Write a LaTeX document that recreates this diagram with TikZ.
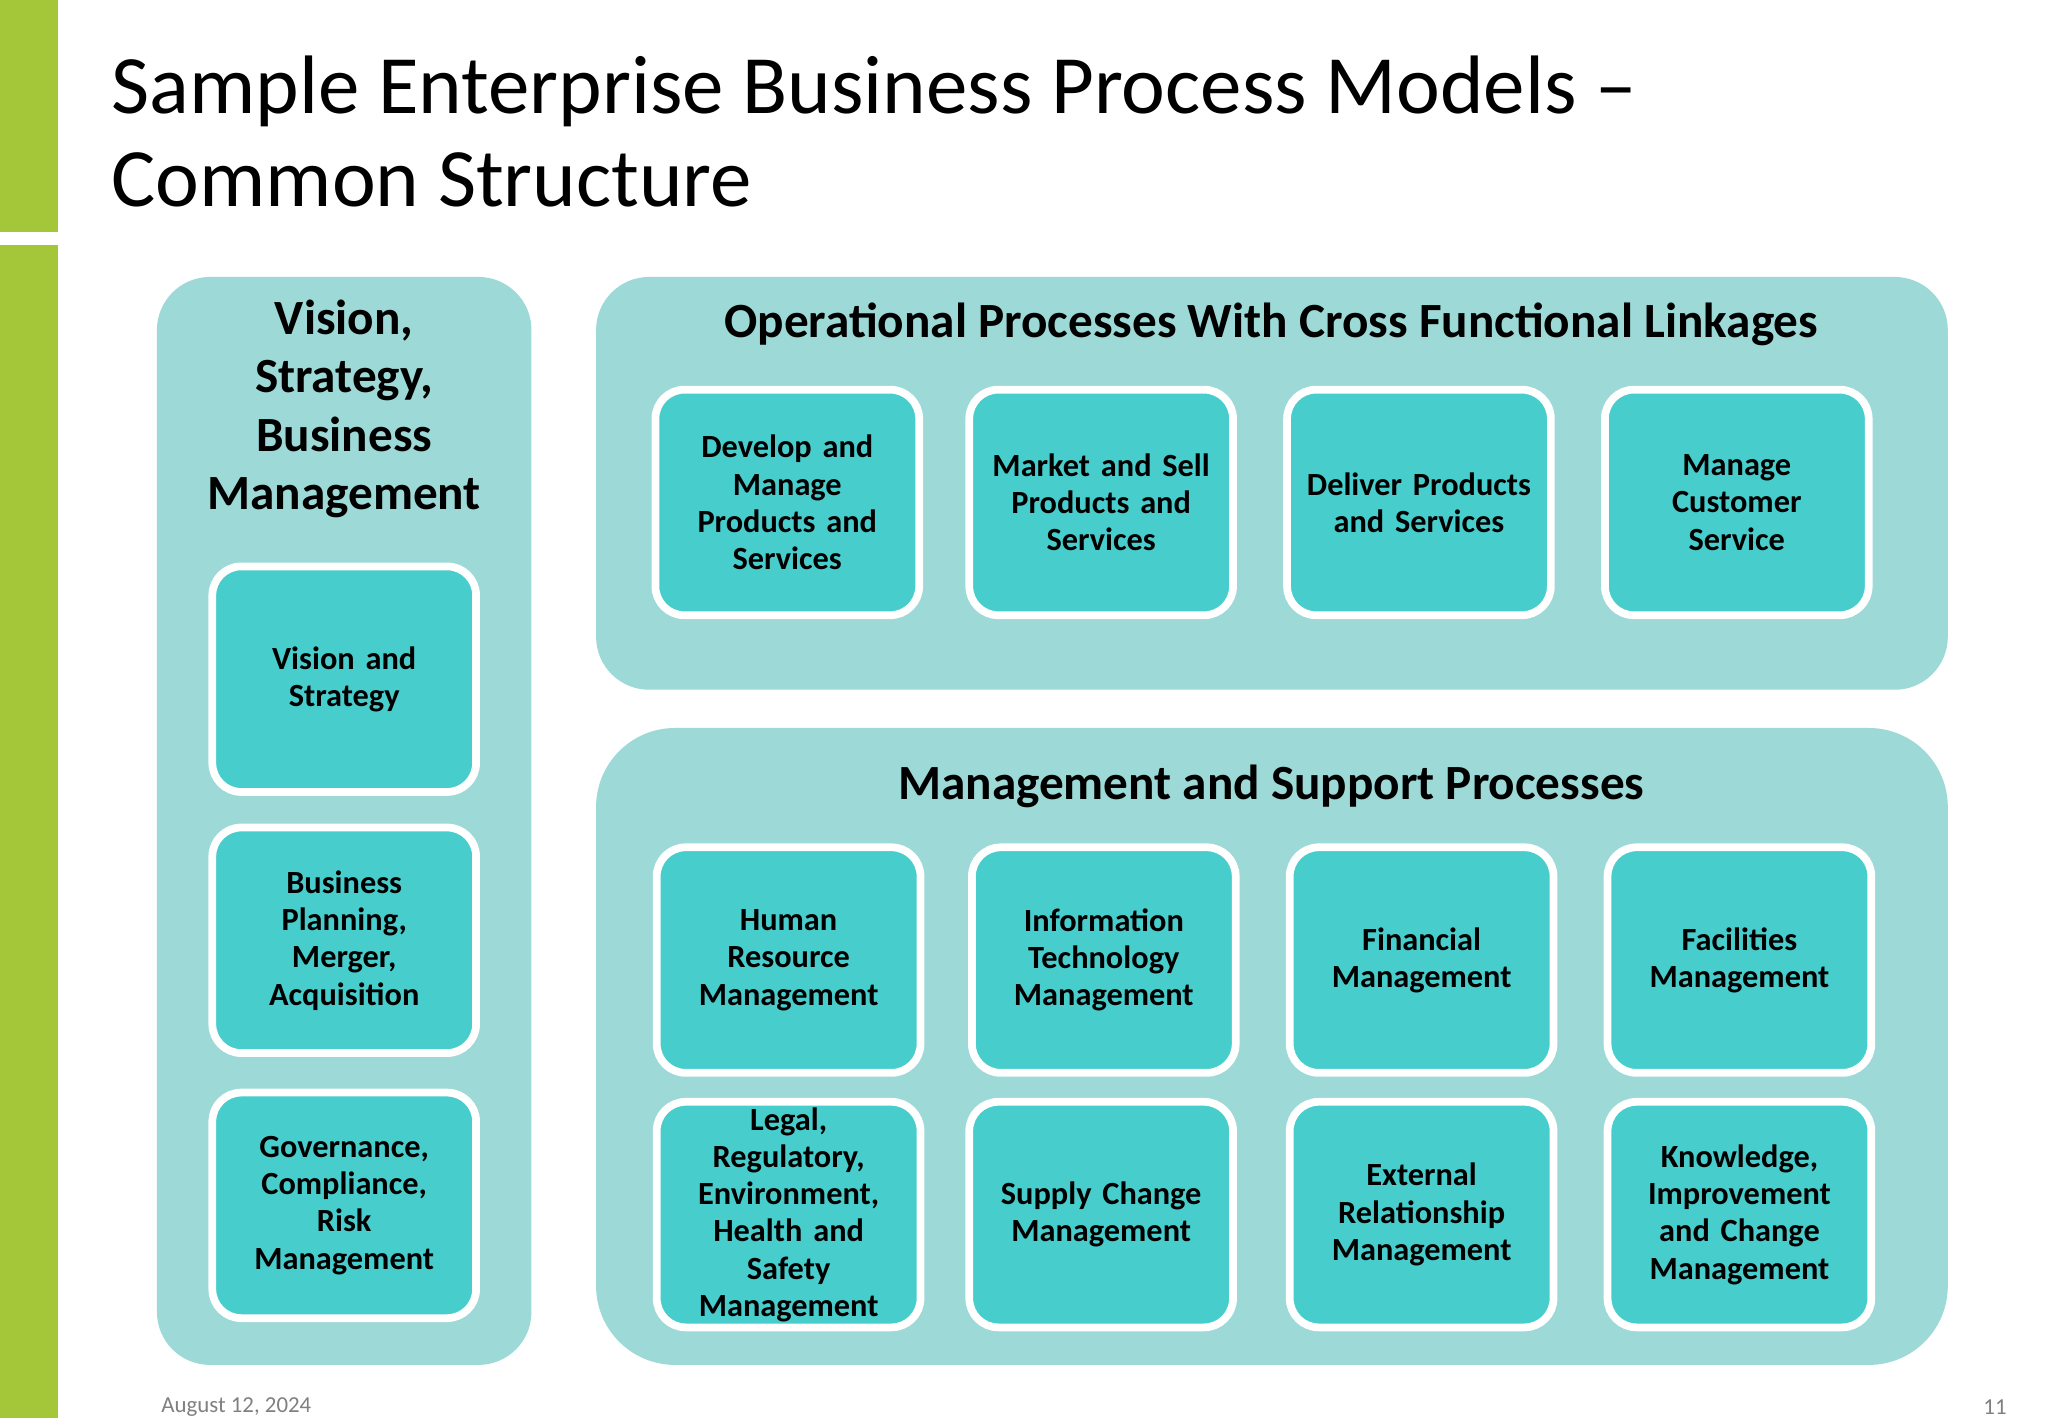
\documentclass[tikz,border=0pt]{standalone}
\usepackage{fontspec}
\setmainfont{Carlito}
\definecolor{barGreen}{HTML}{A4C639}
\definecolor{panelTeal}{HTML}{9CD9D7}
\definecolor{boxTeal}{HTML}{48CDCD}
\tikzset{
  panel/.style={fill=panelTeal, rounded corners=0.53cm},
  proc/.style={draw=white, line width=2.2pt, fill=boxTeal, rounded corners=0.29cm,
    minimum width=2.637cm, minimum height=2.255cm, text width=2.4cm, align=center,
    font=\fontsize{9.2}{10.6}\selectfont\bfseries, inner sep=0pt},
  head/.style={font=\fontsize{14}{16.6}\selectfont\bfseries, align=center},
}
\begin{document}
\begin{tikzpicture}[x=0.013187cm, y=-0.013187cm]
  \useasboundingbox (0,0) rectangle (1553,1075.3);
  \fill[white] (0,0) rectangle (1553,1075.3);
  % Green side bar
  \fill[barGreen] (0,0) rectangle (44,176);
  \fill[barGreen] (0,186) rectangle (44,1075.3);
  % Title
  \node[anchor=north west, align=left, inner sep=0pt,
    font=\fontsize{23.6}{26.3}\selectfont] (title) at (84,42)
    {Sample Enterprise Business Process Models --\\Common Structure};
  % Panels
  \fill[panel] (119,210) rectangle (403,1035);
  \fill[panel] (452,210) rectangle (1477,523);
  \fill[panel, rounded corners=0.79cm] (452,552) rectangle (1477,1035);
  \node[head] (visHead) at (261,310) {Vision,\\Strategy,\\Business\\Management};
  \node[head] (opHead) at (964,246) {Operational Processes With Cross Functional Linkages};
  \node[head] (msHead) at (964,596) {Management and Support Processes};
  % Left column
  \node[proc] (vision) at (261,515) {Vision and\\Strategy};
  \node[proc] (planning) at (261,713) {Business\\Planning,\\Merger,\\Acquisition};
  \node[proc] (governance) at (261,914) {Governance,\\Compliance,\\Risk\\Management};
  % Operational row
  \node[proc] (develop) at (597,381) {Develop and\\Manage\\Products and\\Services};
  \node[proc] (market) at (835,381) {Market and Sell\\Products and\\Services};
  \node[proc] (deliver) at (1076,381) {Deliver Products\\and Services};
  \node[proc] (customer) at (1317,381) {Manage\\Customer\\Service};
  % Support rows
  \node[proc] (hr) at (598,728) {Human\\Resource\\Management};
  \node[proc] (it) at (837,728) {Information\\Technology\\Management};
  \node[proc] (finance) at (1078,728) {Financial\\Management};
  \node[proc] (facilities) at (1319,728) {Facilities\\Management};
  \node[proc] (legal) at (598,921) {Legal,\\Regulatory,\\Environment,\\Health and\\Safety\\Management};
  \node[proc] (supply) at (835,921) {Supply Change\\Management};
  \node[proc] (external) at (1078,921) {External\\Relationship\\Management};
  \node[proc] (knowledge) at (1319,921) {Knowledge,\\Improvement\\and Change\\Management};
  % Footer
  \node[anchor=west, text=gray, font=\fontsize{6.5}{8}\selectfont] (date) at (113,1067) {August 12, 2024};
  \node[anchor=east, text=gray, font=\fontsize{6.5}{8}\selectfont] (page) at (1531,1067) {11};
\end{tikzpicture}
\end{document}
